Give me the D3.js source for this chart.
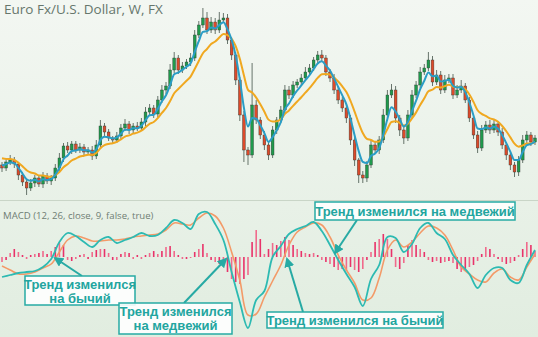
<!DOCTYPE html>
<html><head><meta charset="utf-8">
<script src="https://cdn.jsdelivr.net/npm/d3@7"></script>
<style>html,body{margin:0;padding:0;overflow:hidden;background:#eef4ed}</style>
</head><body>
<svg id="c" width="538" height="337"></svg>
<script>
// ---- data (price in chart units) ----
const closes = [32,38,40,36,25,18,12,17,22,16,
 24,19,22,32,42,54,50,56,50,53,
 48,50,44,55,74,68,62,60,64,72,
 76,70,74,72,78,88,92,86,100,110,
 114,130,142,130,134,138,142,165,175,182,
 170,178,170,180,182,160,145,120,85,50,
 45,95,80,65,55,45,70,80,90,110,
 105,115,118,122,128,132,140,145,142,128,
 122,110,100,92,82,60,40,25,22,35,
 55,50,60,85,105,110,82,70,62,85,
 105,115,128,132,140,118,125,110,120,122,
 105,110,114,100,82,65,52,70,75,70,
 76,68,55,45,35,28,40,60,65,58,
 62];
const firstOpen = 35;
const wickUp = [3,4,5,3,2,3,2,4,3,3,
 4,3,3,4,5,3,4,3,3,4,
 3,3,4,5,6,3,3,2,4,4,
 5,3,3,4,4,5,4,3,4,5,
 4,6,6,3,4,3,5,5,4,10,
 6,5,4,8,5,4,3,3,3,4,
 3,42,5,3,4,3,4,3,4,5,
 4,4,3,4,5,4,3,4,5,3,
 3,4,3,3,4,3,3,2,4,4,
 5,4,4,6,5,6,4,3,4,5,
 5,4,5,4,8,4,5,4,5,4,
 4,5,6,3,3,3,4,5,4,5,
 4,3,4,3,2,3,4,5,4,3,
 3];
const wickDn = [4,3,3,4,5,4,7,3,4,3,
 4,3,4,3,3,4,3,4,3,3,
 4,3,4,3,3,4,3,4,3,3,
 3,4,3,3,3,4,3,4,3,3,
 4,3,3,4,3,3,4,3,3,3,
 4,3,4,3,3,4,5,5,6,12,
 10,3,4,4,5,5,3,4,3,3,
 4,3,3,3,3,3,3,3,4,4,
 4,4,4,4,5,5,6,8,5,4,
 3,4,4,3,3,3,5,6,6,3,
 3,3,3,3,3,4,3,4,3,3,
 4,3,3,3,4,4,5,3,3,4,
 3,4,4,5,5,5,4,3,3,4,
 3];
// MACD histogram per candle
const histogram = [-5,-3,4,8,5,2,-2,2,3,4,
 6,3,6,10,14,12,-3,-4,-2,2,
 3,-2,5,7,8,8,4,-3,-3,3,
 5,4,-2,2,-2,2,4,6,3,6,
 10,11,6,2,-2,-2,-1,5,8,13,
 4,-3,-5,-7,-8,-15,-22,-25,-27,-22,
 -18,15,27,18,3,8,14,12,16,20,
 17,12,8,6,4,3,4,2,-3,-5,
 -7,-10,-13,-12,-14,-10,-13,-15,-12,-3,
 5,15,18,23,18,8,-10,-12,-6,12,
 17,12,8,5,-3,-5,-4,-6,-5,-4,
 -6,-12,-15,-13,-10,-8,-4,3,10,8,
 3,-2,-5,-7,-6,-4,2,8,15,12,
 6];
// MACD and signal lines, sampled every 2nd candle
const macdLine = [-20,-18,-16,-15,-14,-10,-2,15,24,21,15,10,17,20,14,17,20,24,21,22,29,37,34,28,43,45,33,17,-15,-45,-71,-43,-34,0,11,23,28,31,35,26,12,-3,-17,-30,-49,-22,-8,20,19,5,13,29,34,24,18,2,-8,-17,-31,-18,-11,-11,-23,-26,-8,7];
const signalLine = [-9,-13,-17,-17,-15,-11,-7,5,17,21,19,16,16,17,17,18,20,21,22,23,27,34,33,32,39,44,41,29,5,-23,-58,-57,-40,-24,-8,12,25,30,34,32,20,2,-13,-26,-43,-41,-21,7,17,10,15,24,31,29,22,7,-10,-17,-23,-25,-16,-12,-20,-23,-10,3];
const title = "Euro Fx/U.S. Dollar, W, FX";
const macdLabel = "MACD (12, 26, close, 9, false, true)";
const fastPeriod = 4, slowPeriod = 10;
const fastSeed = 36, slowSeed = 44; // moving-average values before the first visible week

// ---- build ----
const svg = d3.select("#c");
const W = 538, H = 337;
const defs = svg.append("defs");
const g = defs.append("linearGradient").attr("id","bg").attr("x1",0).attr("x2",0).attr("y1",0).attr("y2",1);
g.append("stop").attr("offset","0%").attr("stop-color","#f3f7f2");
g.append("stop").attr("offset","100%").attr("stop-color","#e1ede0");
svg.append("rect").attr("width",W).attr("height",H).attr("fill","url(#bg)");

const data = closes.map((c,i)=>{
  const o = i===0 ? firstOpen : closes[i-1];
  return {i, o, c, h: Math.max(o,c)+wickUp[i], l: Math.min(o,c)-wickDn[i]};
});
const x = d3.scaleLinear().domain([0, closes.length-1]).range([2, 535]);
const y = d3.scaleLinear().domain([0, 200]).range([200, 0]);

function ema(arr, p, seed){ const a = 2/(p+1); const out=[]; let prev = seed; arr.forEach(v=>{prev = prev + a*(v-prev); out.push(prev);}); return out; }
const fast = ema(closes, fastPeriod, fastSeed), slow = ema(closes, slowPeriod, slowSeed);

// separator
svg.append("line").attr("x1",0).attr("x2",W).attr("y1",200.5).attr("y2",200.5).attr("stroke","#c9d5c7").attr("stroke-width",1);

// candles
const cg = svg.append("g");
cg.selectAll("line.w").data(data).join("line").attr("class","w")
  .attr("x1",d=>x(d.i)).attr("x2",d=>x(d.i)).attr("y1",d=>y(d.h)).attr("y2",d=>y(d.l))
  .attr("stroke","#3b4a40").attr("stroke-width",1).attr("opacity",0.75);
cg.selectAll("rect").data(data).join("rect")
  .attr("x",d=>x(d.i)-1.4).attr("width",2.8)
  .attr("y",d=>y(Math.max(d.o,d.c))).attr("height",d=>Math.max(1,Math.abs(y(d.o)-y(d.c))))
  .attr("fill",d=>d.c>=d.o?"#1f9a4c":"#dc4a2b").attr("stroke","#2f3b33").attr("stroke-width",0.4);

const lineP = d3.line().x((d,i)=>x(i)).y(d=>y(d)).curve(d3.curveMonotoneX);
svg.append("path").attr("d",lineP(slow)).attr("fill","none").attr("stroke","#f0a820").attr("stroke-width",2);
svg.append("path").attr("d",lineP(fast)).attr("fill","none").attr("stroke","#2a9dc6").attr("stroke-width",2);

// title
svg.append("text").attr("x",4).attr("y",14).text(title)
  .attr("font-family","'Open Sans','Noto Sans',sans-serif").attr("font-size",13.5).attr("fill","#66766c");
svg.append("text").attr("x",3).attr("y",219).text(macdLabel)
  .attr("font-family","'Open Sans','Noto Sans',sans-serif").attr("font-size",9.6).attr("fill","#6f7d74");

// MACD panel
const ym = d3.scaleLinear().domain([-80, 60]).range([337, 197]);
svg.append("g").selectAll("rect").data(histogram).join("rect")
  .attr("x",(d,i)=>x(i)-0.8).attr("width",1.6)
  .attr("y",d=>ym(Math.max(0,d))).attr("height",d=>Math.max(0.6,Math.abs(ym(d)-ym(0))))
  .attr("fill",(d,i)=>i%2?"#e8336a":"#f06a8c");
const lineM = d3.line().x((d,i)=>x(i*2)).y(d=>ym(d)).curve(d3.curveCatmullRom);
svg.append("path").attr("d",lineM(signalLine)).attr("fill","none").attr("stroke","#f39a68").attr("stroke-width",1.6);
svg.append("path").attr("d",lineM(macdLine)).attr("fill","none").attr("stroke","#2dbab2").attr("stroke-width",1.8);

// annotations
const teal = "#27aaa4";
defs.append("marker").attr("id","ah").attr("viewBox","0 0 10 10").attr("refX",8).attr("refY",5)
  .attr("markerWidth",5).attr("markerHeight",5).attr("orient","auto")
  .append("path").attr("d","M0,0 L10,5 L0,10 z").attr("fill",teal);
const annotations = [
  {lines:["Тренд изменился","на бычий"], box:[25,276,110,29], base:[289,303], arrow:[82,276,55,258]},
  {lines:["Тренд изменился","на медвежий"], box:[119,303,113,31], base:[316,330], arrow:[184,303,226,259]},
  {lines:["Тренд изменился на медвежий"], box:[315,202,200,18], base:[216], arrow:[357,220,335,253]},
  {lines:["Тренд изменился на бычий"], box:[267,312,176,16], base:[325], arrow:[303,312,287,259]}
];
const ag = svg.append("g");
annotations.forEach(a=>{
  ag.append("line").attr("x1",a.arrow[0]).attr("y1",a.arrow[1]).attr("x2",a.arrow[2]).attr("y2",a.arrow[3])
    .attr("stroke",teal).attr("stroke-width",2).attr("marker-end","url(#ah)");
});
annotations.forEach(a=>{
  ag.append("rect").attr("x",a.box[0]).attr("y",a.box[1]).attr("width",a.box[2]).attr("height",a.box[3])
    .attr("fill","#ffffff").attr("fill-opacity",0.88).attr("stroke",teal).attr("stroke-width",1.5);
  a.lines.forEach((t,j)=>{
    ag.append("text").attr("x",a.box[0]+a.box[2]/2).attr("y",a.base[j]).attr("text-anchor","middle")
      .attr("font-family","'Liberation Sans',Arial,sans-serif").attr("font-weight","bold").attr("font-size",13)
      .attr("fill","#22a59f").text(t);
  });
});
</script>
</body></html>
